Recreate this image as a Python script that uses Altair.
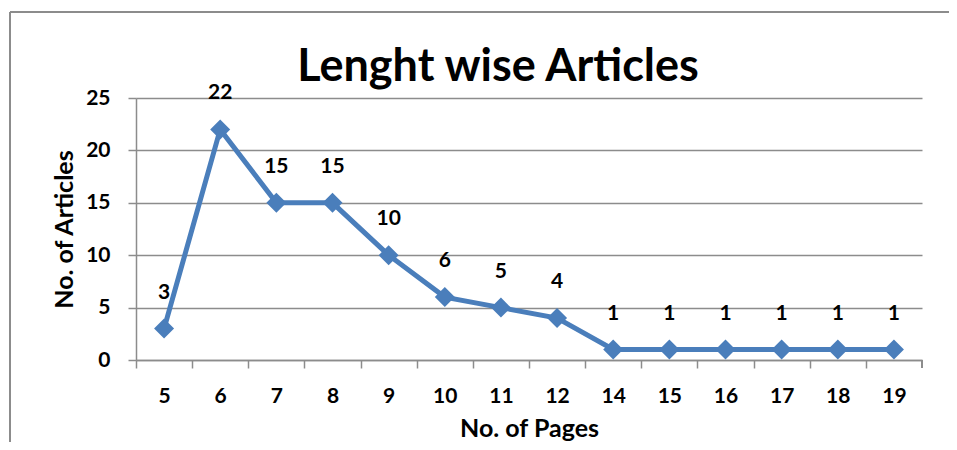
import altair as alt
import pandas as pd

pages = ["5", "6", "7", "8", "9", "10", "11", "12", "14", "15", "16", "17", "18", "19"]
articles = [3, 22, 15, 15, 10, 6, 5, 4, 1, 1, 1, 1, 1, 1]
chart_title = "Lenght wise Articles"

df = pd.DataFrame({"pages": pages, "articles": articles})

W, H = 786, 262
STEP = W / len(pages)
FONT = "Lato"
BLUE = "#4A7EBB"
GRAY = "#8C8C8C"

base = alt.Chart(df)

x_enc = alt.X(
    "pages:O",
    sort=pages,
    scale=alt.Scale(padding=0.5),
    axis=alt.Axis(
        title="No. of Pages",
        labelAngle=0,
        tickOffset=-STEP / 2,
        labelOffset=STEP / 2,
        tickSize=8,
        tickColor=GRAY,
        tickWidth=1.5,
        domainColor=GRAY,
        domainWidth=1.5,
        labelPadding=17,
        titlePadding=10,
        grid=False,
    ),
)
x_plain = alt.X("pages:O", sort=pages)
y_enc = alt.Y(
    "articles:Q",
    scale=alt.Scale(domain=[0, 25], nice=False),
    axis=alt.Axis(
        title="No. of Articles",
        values=[0, 5, 10, 15, 20, 25],
        tickSize=8,
        tickColor=GRAY,
        tickWidth=1.5,
        domainColor=GRAY,
        domainWidth=1.5,
        gridColor=GRAY,
        gridWidth=1.5,
        labelPadding=18,
        titlePadding=8,
    ),
)

line = base.mark_line(color=BLUE, strokeWidth=5).encode(x=x_enc, y=y_enc)
points = base.mark_point(shape="diamond", filled=True, color=BLUE, size=400, opacity=1).encode(
    x=x_plain, y="articles:Q"
)
labels = base.mark_text(dy=-36, font=FONT, fontSize=21, fontWeight="bold", color="black").encode(
    x=x_plain, y="articles:Q", text="articles:Q"
)

end_tick = base.mark_rule(color=GRAY, strokeWidth=1.5).encode(
    x=alt.value(W), y=alt.value(H), y2=alt.value(H + 8)
)
border_left = base.mark_rule(color=GRAY, strokeWidth=2).encode(
    x=alt.value(-126), y=alt.value(-86), y2=alt.value(400)
)
border_top = base.mark_rule(color=GRAY, strokeWidth=2).encode(
    x=alt.value(-126), x2=alt.value(900), y=alt.value(-86)
)
title_text = (
    alt.Chart(pd.DataFrame({"t": [chart_title]}))
    .mark_text(font=FONT, fontSize=45, fontWeight="bold", color="black", baseline="alphabetic")
    .encode(text="t:N", x=alt.value(362), y=alt.value(-17))
)

chart = (
    alt.layer(border_left, border_top, line, points, labels, end_tick, title_text)
    .properties(
        width=W,
        height=H,
        padding={"left": 128, "top": 90, "right": 27, "bottom": 82},
        autosize=alt.AutoSizeParams(type="none"),
    )
    .configure_view(stroke=None)
    .configure_axis(
        labelFont=FONT,
        labelFontSize=21,
        labelFontWeight="bold",
        labelColor="black",
        titleFont=FONT,
        titleFontSize=25,
        titleFontWeight="bold",
        titleColor="black",
    )
)

chart.save("out.html", embed_options={"renderer": "svg", "actions": False})
